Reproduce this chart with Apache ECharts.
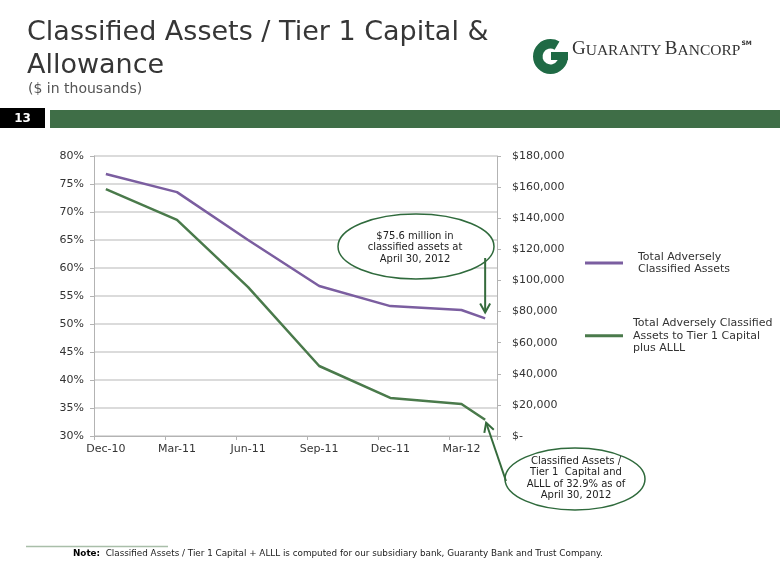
<!DOCTYPE html>
<html><head><meta charset="utf-8">
<script src="https://cdn.jsdelivr.net/npm/echarts@6/dist/echarts.min.js"></script>
<style>html,body{margin:0;padding:0;background:#fff}#c{width:780px;height:585px}</style>
</head><body><div id="c"></div>
<script>
// ---- data ----
const months = ['Dec-10','Jan-11','Feb-11','Mar-11','Apr-11','May-11','Jun-11','Jul-11','Aug-11','Sep-11','Oct-11','Nov-11','Dec-11','Jan-12','Feb-12','Mar-12','Apr-12'];
const pointMonths = ['Dec-10','Mar-11','Jun-11','Sep-11','Dec-11','Mar-12','Apr-12'];
const classifiedAssets = [168400,156800,126000,96400,83500,81000,75600];   // $ thousands
const ratioPct = [74.1,68.6,56.6,42.5,36.8,35.7,32.9];                     // %
const seriesNames = ['Total Adversely\nClassified Assets','Total Adversely Classified\nAssets to Tier 1 Capital\nplus ALLL'];
const pctAxis = {min:30, max:80, step:5};
const dollarAxis = {min:0, max:180000, step:20000};

const FONT = 'DejaVu Sans';
const PURPLE = '#7b5ea0', GREEN = '#4a7a4b', DARKG = '#2f6a3c';

function onMonths(vals){
  const m = {}; pointMonths.forEach((k,i)=>m[k]=vals[i]);
  return months.map(k => (k in m) ? m[k] : null);
}
function dollarFmt(v){
  if (v === 0) return '$-';
  return '$' + v.toString().replace(/\B(?=(\d{3})+(?!\d))/g, ',');
}

const chart = echarts.init(document.getElementById('c'), null, {renderer:'canvas'});
const axisGray = '#b3b3b3';
chart.setOption({
  animation:false,
  backgroundColor:'#fff',
  grid:{left:94, right:283, top:156, bottom:149, containLabel:false},
  xAxis:{
    type:'category', data:months, boundaryGap:true,
    axisLine:{lineStyle:{color:axisGray}},
    axisTick:{show:true, interval:2, length:4, lineStyle:{color:axisGray}},
    axisLabel:{interval:2, margin:8, color:'#333', fontFamily:FONT, fontSize:11}
  },
  yAxis:[
    {type:'value', position:'left', min:pctAxis.min, max:pctAxis.max, interval:pctAxis.step,
     axisLine:{show:true, lineStyle:{color:axisGray}},
     axisTick:{show:true, length:4, lineStyle:{color:axisGray}},
     axisLabel:{formatter:'{value}%', margin:10, color:'#333', fontFamily:FONT, fontSize:11},
     splitLine:{show:true, lineStyle:{color:'#cfcfcf', width:1.5}}},
    {type:'value', position:'right', min:dollarAxis.min, max:dollarAxis.max, interval:dollarAxis.step,
     axisLine:{show:true, lineStyle:{color:axisGray}},
     axisTick:{show:true, length:4, lineStyle:{color:axisGray}},
     axisLabel:{formatter:dollarFmt, margin:15, color:'#333', fontFamily:FONT, fontSize:11},
     splitLine:{show:false}}
  ],
  legend:[
    {data:[seriesNames[0]], left:585, top:250.5, padding:0, icon:'rect', itemWidth:38, itemHeight:3,
     textStyle:{color:'#333', fontFamily:FONT, fontSize:11, lineHeight:12.5, padding:[0,0,0,10]}},
    {data:[seriesNames[1]], left:585, top:317, padding:0, icon:'rect', itemWidth:38, itemHeight:3,
     textStyle:{color:'#333', fontFamily:FONT, fontSize:11, lineHeight:12.5, padding:[0,0,0,5]}}
  ],
  series:[
    {name:seriesNames[0], type:'line', yAxisIndex:1, data:onMonths(classifiedAssets), connectNulls:true,
     showSymbol:false, symbol:'none', lineStyle:{color:PURPLE, width:2.5}, itemStyle:{color:PURPLE}, z:3},
    {name:seriesNames[1], type:'line', yAxisIndex:0, data:onMonths(ratioPct), connectNulls:true,
     showSymbol:false, symbol:'none', lineStyle:{color:GREEN, width:2.5}, itemStyle:{color:GREEN}, z:3}
  ]
});

// ---- annotations / page decoration ----
function arrow(x0,y0,x1,y1,color){
  const dx=x1-x0, dy=y1-y0, L=Math.hypot(dx,dy), ux=dx/L, uy=dy/L, nx=-uy, ny=ux;
  const hl=9, hw=5;
  return [
    {type:'line', shape:{x1:x0,y1:y0,x2:x1,y2:y1}, style:{stroke:color, lineWidth:2}, z:20},
    {type:'polyline', shape:{points:[[x1-hl*ux+hw*nx, y1-hl*uy+hw*ny],[x1,y1],[x1-hl*ux-hw*nx, y1-hl*uy-hw*ny]]},
     style:{stroke:color, lineWidth:2, fill:null}, z:20}
  ];
}
const last = months.length-1;
const pA = chart.convertToPixel({xAxisIndex:0, yAxisIndex:1}, [last, classifiedAssets[classifiedAssets.length-1]]);
const pR = chart.convertToPixel({xAxisIndex:0, yAxisIndex:0}, [last, ratioPct[ratioPct.length-1]]);

const g = [
  // title
  {type:'text', x:27, y:32.5, style:{text:'Classified Assets / Tier 1 Capital &', font:'27px "DejaVu Sans"', fill:'#363636', verticalAlign:'middle'}},
  {type:'text', x:27, y:65.5, style:{text:'Allowance', font:'27px "DejaVu Sans"', fill:'#363636', verticalAlign:'middle'}},
  {type:'text', x:28, y:89.5, style:{text:'($ in thousands)', font:'14px "DejaVu Sans"', fill:'#555', verticalAlign:'middle'}},
  // page number + bar
  {type:'rect', shape:{x:0,y:108,width:45,height:20}, style:{fill:'#000'}},
  {type:'text', x:22.5, y:118.5, style:{text:'13', font:'bold 12px "DejaVu Sans"', fill:'#fff', align:'center', verticalAlign:'middle'}},
  {type:'rect', shape:{x:50,y:110,width:730,height:18}, style:{fill:'#3f6e47'}},
  // logo
  {type:'sector', shape:{cx:550.5, cy:56.5, r0:8, r:17.5, startAngle:0, endAngle:5.25, clockwise:true}, style:{fill:'#1f6a45'}},
  {type:'rect', shape:{x:551, y:52, width:17, height:8}, style:{fill:'#1f6a45'}},
  {type:'text', x:572, y:59, style:{text:'{b|G}{s|UARANTY} {b|B}{s|ANCORP}{m|SM}', verticalAlign:'bottom',
    rich:{b:{font:'19px "Liberation Serif"', fill:'#333', verticalAlign:'bottom'},
          s:{font:'15.5px "Liberation Serif"', fill:'#333', verticalAlign:'bottom'},
          m:{font:'bold 6px "DejaVu Sans"', fill:'#333', verticalAlign:'top', padding:[0,0,8,1]}}}},
  // ellipse 1
  {type:'ellipse', shape:{cx:416, cy:246.5, rx:78, ry:32.5}, style:{fill:'#fff', stroke:DARKG, lineWidth:1.5}, z:15},
  {type:'text', x:415, y:247.5, z:16, style:{text:'$75.6 million in\nclassified assets at\nApril 30, 2012', font:'10px "DejaVu Sans"', lineHeight:11.5, fill:'#222', align:'center', verticalAlign:'middle'}},
  // ellipse 2
  {type:'ellipse', shape:{cx:575, cy:479, rx:70, ry:31}, style:{fill:'#fff', stroke:DARKG, lineWidth:1.5}, z:15},
  {type:'text', x:576, y:478.5, z:16, style:{text:'Classified Assets /\nTier 1  Capital and\nALLL of 32.9% as of\nApril 30, 2012', font:'10px "DejaVu Sans"', lineHeight:11.6, fill:'#222', align:'center', verticalAlign:'middle'}},
  // footnote
  {type:'line', shape:{x1:26,y1:546.5,x2:168,y2:546.5}, style:{stroke:'#a9bea9', lineWidth:1.5}},
  {type:'text', x:73, y:554, style:{text:'{b|Note:}  Classified Assets / Tier 1 Capital + ALLL is computed for our subsidiary bank, Guaranty Bank and Trust Company.',
    font:'8.8px "DejaVu Sans"', fill:'#222', verticalAlign:'middle',
    rich:{b:{font:'bold 8.8px "DejaVu Sans"', fill:'#000'}}}}
].concat(
  arrow(pA[0], 258, pA[0], pA[1]-6, '#356b3c'),
  arrow(506, 481, pR[0]+1, pR[1]+3, '#356b3c')
);
chart.setOption({graphic:{elements:g}});
</script>
</body></html>
